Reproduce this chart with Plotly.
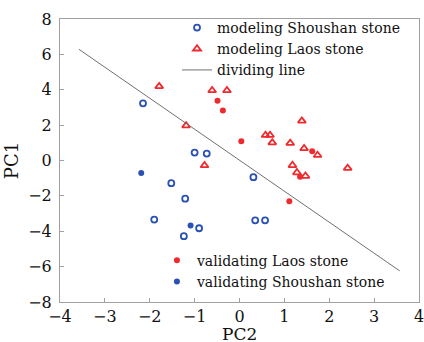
import plotly.graph_objects as go

# modeling Shoushan stone (open blue circles)
ms_x = [-2.15, -1.00, -0.73, 0.31, -1.52, -1.21, -1.90, -0.90, -1.24, 0.35, 0.57]
ms_y = [3.23, 0.45, 0.39, -0.94, -1.28, -2.16, -3.34, -3.83, -4.28, -3.38, -3.38]

# modeling Laos stone (open red triangles)
ml_x = [-1.79, -1.19, -0.61, -0.28, -0.78, 1.39, 0.58, 0.68, 0.73, 1.13, 1.44, 1.74, 1.18, 1.28, 1.47, 2.41]
ml_y = [4.19, 1.97, 3.96, 3.96, -0.28, 2.24, 1.43, 1.43, 1.01, 0.98, 0.68, 0.30, -0.27, -0.68, -0.88, -0.43]

# validating Laos stone (filled red dots)
vl_x = [-0.49, -0.37, 0.04, 1.62, 1.35, 1.11]
vl_y = [3.38, 2.83, 1.09, 0.52, -0.92, -2.31]

# validating Shoushan stone (filled blue dots)
vs_x = [-2.19, -1.09]
vs_y = [-0.71, -3.68]

# dividing line
line_x = [-3.58, 3.57]
line_y = [6.29, -6.24]

x_ticks = [-4, -3, -2, -1, 0, 1, 2, 3, 4]
y_ticks = [-8, -6, -4, -2, 0, 2, 4, 6, 8]

BLUE = "#2a52b4"
RED = "#ee2a2e"
FONT = "DejaVu Serif"

fig = go.Figure()
fig.add_trace(go.Scatter(x=ms_x, y=ms_y, mode="markers", name="modeling Shoushan stone",
                         marker=dict(symbol="circle-open", size=6, color=BLUE, line=dict(width=1.8, color=BLUE)),
                         legend="legend"))
fig.add_trace(go.Scatter(x=ml_x, y=ml_y, mode="markers", name="modeling Laos stone",
                         marker=dict(symbol="triangle-up-open", size=7, color=RED, line=dict(width=1.8, color=RED)),
                         legend="legend"))
fig.add_trace(go.Scatter(x=line_x, y=line_y, mode="lines", name="dividing line",
                         line=dict(color="#707070", width=1), legend="legend"))
fig.add_trace(go.Scatter(x=vl_x, y=vl_y, mode="markers", name="validating Laos stone",
                         marker=dict(symbol="circle", size=6, color=RED), legend="legend2"))
fig.add_trace(go.Scatter(x=vs_x, y=vs_y, mode="markers", name="validating Shoushan stone",
                         marker=dict(symbol="circle", size=6, color=BLUE), legend="legend2"))

axis_common = dict(showline=True, mirror=True, linecolor="#a0a0a0", linewidth=1,
                   ticks="inside", ticklen=4, tickcolor="#a0a0a0", showgrid=False, zeroline=False,
                   ticklabeloverflow="allow",
                   tickfont=dict(family=FONT, size=16, color="#111"))

fig.update_layout(
    width=424, height=342,
    margin=dict(l=60, r=5, t=19, b=40, autoexpand=False),
    plot_bgcolor="white", paper_bgcolor="white",
    font=dict(family=FONT, color="#111"),
    xaxis=dict(range=[-4, 4], tickvals=x_ticks, ticktext=[str(v).replace("-", "\u2212") for v in x_ticks],
               ticklabelstandoff=0, automargin=False, **axis_common),
    yaxis=dict(range=[-8, 8], tickvals=y_ticks, ticktext=[str(v).replace("-", "\u2212") for v in y_ticks],
               ticklabelstandoff=4, automargin=False,
               title=dict(text="PC1", font=dict(family=FONT, size=18), standoff=4), **axis_common),
    legend=dict(x=0.326, y=1.025, xanchor="left", yanchor="top", bgcolor="rgba(0,0,0,0)",
                font=dict(family=FONT, size=14), tracegroupgap=0),
    legend2=dict(x=0.270, y=0.015, xanchor="left", yanchor="bottom", bgcolor="rgba(0,0,0,0)",
                 font=dict(family=FONT, size=14), tracegroupgap=0),
    annotations=[dict(text="PC2", xref="paper", yref="paper", x=0.5, y=-0.113,
                      xanchor="center", yanchor="middle", showarrow=False,
                      font=dict(family=FONT, size=17, color="#111"))],
    showlegend=True,
)

fig.write_html("out.html", config={"displayModeBar": False},
               post_script="document.body.style.margin='0px';document.body.style.overflow='hidden';"
                           "document.documentElement.style.overflow='hidden';")
